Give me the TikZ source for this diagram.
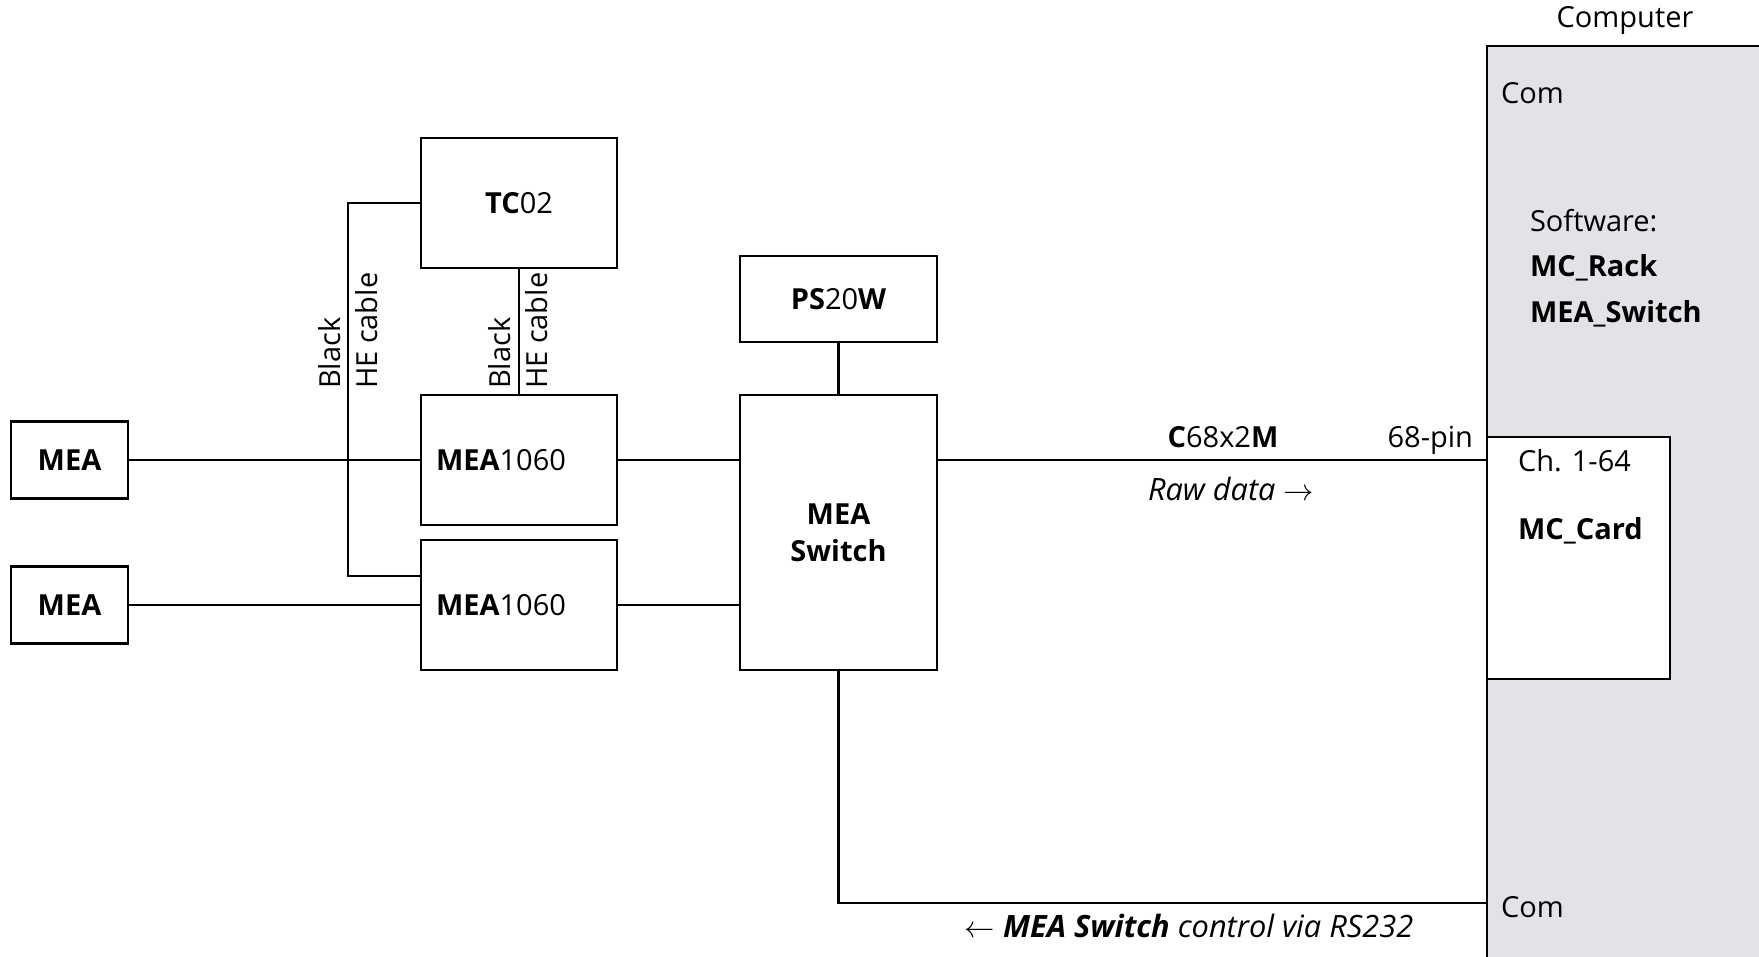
\documentclass[tikz,border=0pt]{standalone}
\usepackage{fontspec}
\setmainfont{Open Sans}
\definecolor{pcgray}{RGB}{226,227,231}
\newcommand{\mfont}{\fontsize{16.5}{21}\selectfont}
\newcommand{\ifont}{\fontsize{17.5}{21}\selectfont}

\begin{document}
\begin{tikzpicture}[x=0.02cm, y=-0.02cm, line width=1.2pt, font=\mfont,
    mea/.style={draw, minimum width=2.34cm, minimum height=1.54cm, font=\mfont\bfseries},
    unit/.style={draw, minimum width=3.92cm, minimum height=2.6cm},
    amp/.style={draw, minimum height=2.6cm, text width=3.32cm, inner xsep=0.3cm, align=left},
    txt/.style={inner sep=0pt, anchor=west},
    cable/.style={inner sep=0pt, rotate=90, anchor=west, align=left}]
        \clip (0, 0) rectangle (1759, 957);

        % COMPUTER
        \node[draw, fill=pcgray, anchor=north west, minimum width=6cm, minimum height=19cm] (pc) at (1486, 45) {};
        \node[draw, fill=white, anchor=north west, minimum width=3.66cm, minimum height=4.84cm] (card) at (1486, 436) {};
        \node[inner sep=0pt] (pclabel) at (1625, 20) {Computer};
        \node[txt] (comtop) at (1500, 93) {Com};
        \node[txt] (soft) at (1529, 221) {Software:};
        \node[txt, font=\mfont\bfseries] (rack) at (1529, 268) {MC\_Rack};
        \node[txt, font=\mfont\bfseries] (swsoft) at (1529, 314) {MEA\_Switch};
        \node[txt] (chan) at (1517, 461) {Ch. 1-64};
        \node[txt, font=\mfont\bfseries] (mccard) at (1517, 531) {MC\_Card};
        \node[txt] (combot) at (1500, 907) {Com};

        % MEAS AND AMPLIFIERS
        \node[mea] (mea1) at (69.5, 460) {MEA};
        \node[mea] (mea2) at (69.5, 605) {MEA};
        \node[unit] (tc) at (519, 203) {\textbf{TC}02};
        \node[amp] (amp1) at (519, 460) {\textbf{MEA}1060};
        \node[amp] (amp2) at (519, 605) {\textbf{MEA}1060};

        % SWITCH
        \node[draw, minimum width=3.94cm, minimum height=1.72cm] (ps) at (838.5, 299) {\textbf{PS}20\textbf{W}};
        \node[draw, minimum width=3.94cm, minimum height=5.5cm, align=center, font=\mfont\bfseries] (sw) at (838.5, 532.5) {MEA\\Switch};

        \coordinate (hebend) at (348, 576);
        \coordinate (comport) at (1486, 903);

        \draw (mea1) -- (amp1);
        \draw (mea2) -- (amp2);
        \draw (amp1.east) -- (amp1.east -| sw.west);
        \draw (amp2.east) -- (amp2.east -| sw.west);
        \draw (tc) -- (amp1);
        \draw (tc.west) -| (hebend) -- (hebend -| amp2.west);
        \draw (ps) -- (sw);
        \draw (amp1.east -| sw.east) -- (amp1.east -| pc.west);
        \draw (sw.south) |- (comport);

        % LABELS
        \node[cable] (helabel1) at (348, 390) {Black\\HE cable};
        \node[cable] (helabel2) at (518, 390) {Black\\HE cable};
        \node[inner sep=0pt] (cablename) at (1223, 437) {\textbf{C}68x2\textbf{M}};
        \node[inner sep=0pt, font=\ifont] (rawdata) at (1231, 489) {\textit{Raw data} $\rightarrow$};
        \node[inner sep=0pt, anchor=east] (pin) at (1474, 440) {68-pin};
        \node[inner sep=0pt, font=\ifont] (rslabel) at (1189, 926) {$\leftarrow$ \textit{\textbf{MEA Switch} control via RS232}};
    \end{tikzpicture}
\end{document}
